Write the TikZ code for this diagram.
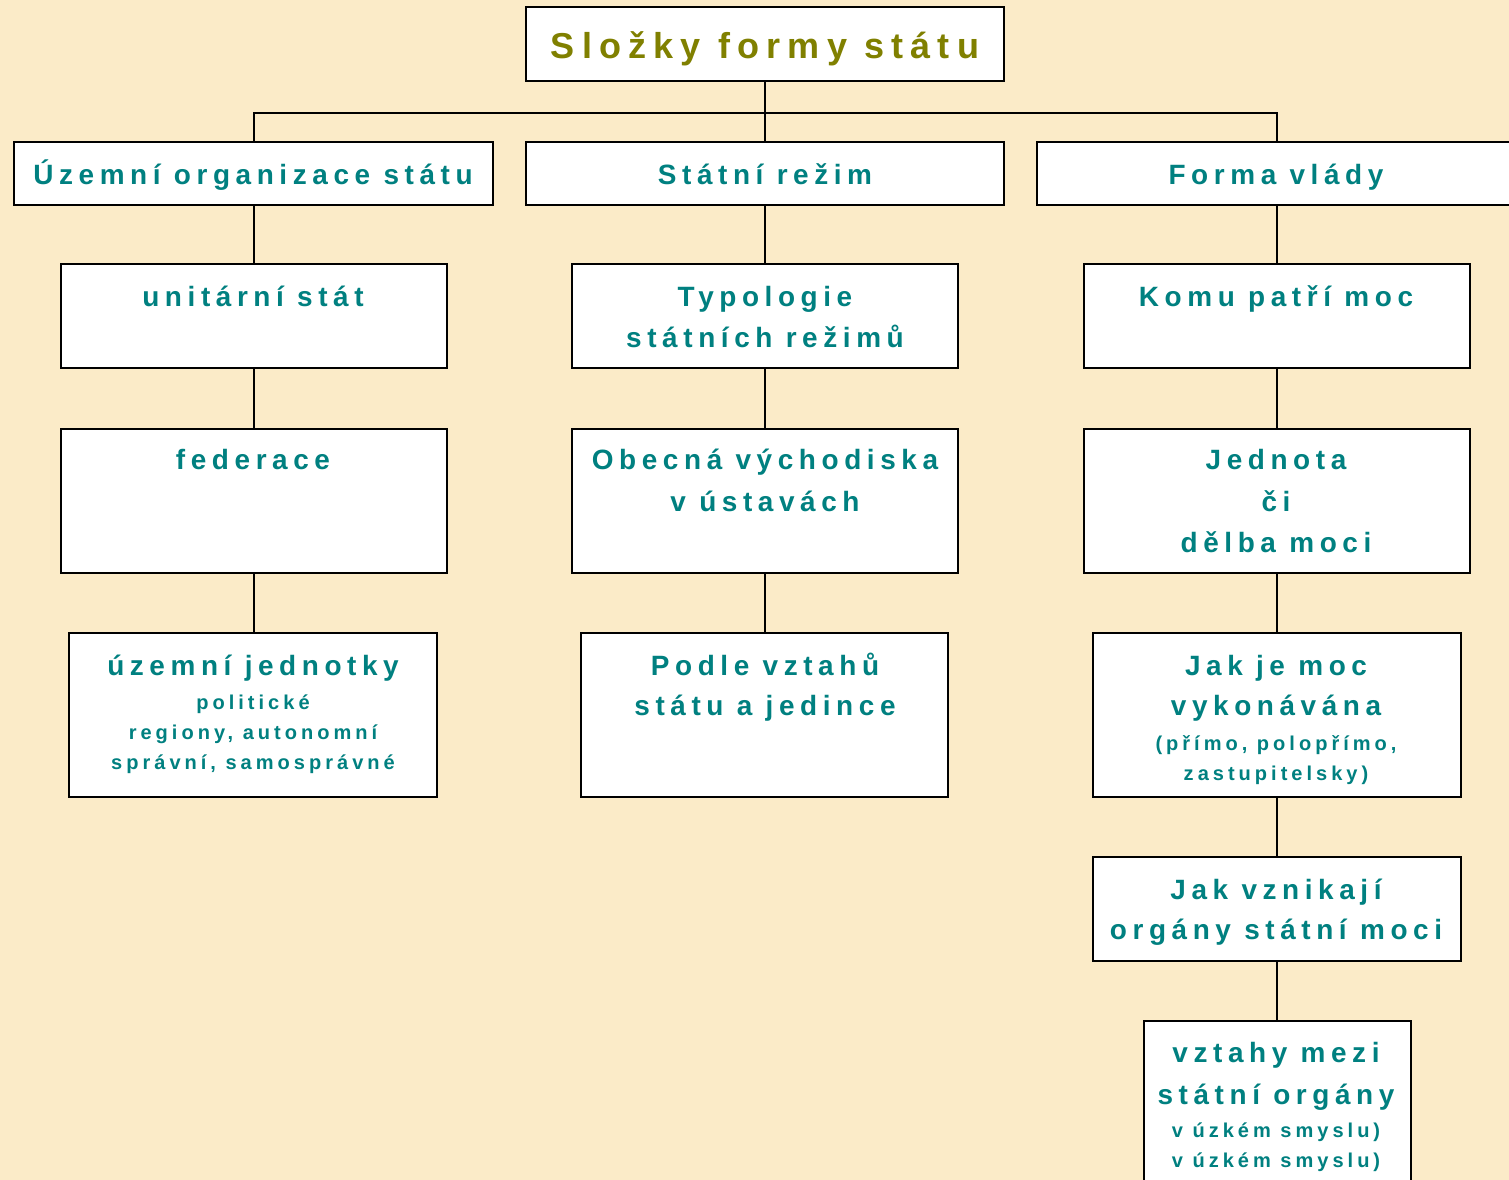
\documentclass[tikz,border=0pt]{standalone}
\usepackage{fontspec}
\usetikzlibrary{fit}
\newfontfamily\spaced{Liberation Sans}[LetterSpace=20]
\definecolor{bgc}{RGB}{251,235,200}
\definecolor{tealc}{RGB}{0,128,128}
\definecolor{olivec}{RGB}{128,128,0}
\begin{document}
\begin{tikzpicture}[x=0.02cm,y=-0.02cm,
  box/.style={draw=black, line width=1.4pt, fill=white, inner sep=0pt},
  conn/.style={draw=black, line width=1.4pt},
  ttl/.style={anchor=base, inner sep=0pt, text=olivec, font=\spaced\bfseries\fontsize{20.5}{24}\selectfont},
  big/.style={anchor=base, inner sep=0pt, text=tealc, font=\spaced\bfseries\fontsize{15.9}{19}\selectfont},
  small/.style={anchor=base, inner sep=0pt, text=tealc, font=\spaced\bfseries\fontsize{11.4}{13}\selectfont}]
\useasboundingbox (0,0) rectangle (1509,1180);
\fill[bgc] (0,0) rectangle (1509,1180);
\clip (0,0) rectangle (1509,1180);
% boxes
\node[box, fit={(526,7) (1004,81)}] (title) {};
\node[box, fit={(14,142) (493,205)}] (s1) {};
\node[box, fit={(526,142) (1004,205)}] (s2) {};
\node[box, fit={(1037,142) (1515,205)}] (s3) {};
\node[box, fit={(61,264) (447,368)}] (c1a) {};
\node[box, fit={(61,429) (447,573)}] (c1b) {};
\node[box, fit={(69,633) (437,797)}] (c1c) {};
\node[box, fit={(572,264) (958,368)}] (c2a) {};
\node[box, fit={(572,429) (958,573)}] (c2b) {};
\node[box, fit={(581,633) (948,797)}] (c2c) {};
\node[box, fit={(1084,264) (1470,368)}] (c3a) {};
\node[box, fit={(1084,429) (1470,573)}] (c3b) {};
\node[box, fit={(1093,633) (1461,797)}] (c3c) {};
\node[box, fit={(1093,857) (1461,961)}] (c3d) {};
\node[box, fit={(1144,1021) (1411,1195)}] (c3e) {};
% connectors
\coordinate (bus) at (765,113);
\draw[conn] (title.south) -- (title.south |- s2.north);
\draw[conn] (c1a.north |- s1.north) |- (bus) -| (c3a.north |- s3.north);
\draw[conn] (c1a.north |- s1.south) -- (c1a.north);
\draw[conn] (c1a.south) -- (c1b.north);
\draw[conn] (c1b.south) -- (c1b.south |- c1c.north);
\draw[conn] (c2a.north |- s2.south) -- (c2a.north);
\draw[conn] (c2a.south) -- (c2b.north);
\draw[conn] (c2b.south) -- (c2b.south |- c2c.north);
\draw[conn] (c3a.north |- s3.south) -- (c3a.north);
\draw[conn] (c3a.south) -- (c3b.north);
\draw[conn] (c3b.south) -- (c3b.south |- c3c.north);
\draw[conn] (c3c.south) -- (c3d.north);
\draw[conn] (c3d.south) -- (c3d.south |- c3e.north);
% texts
\node[ttl] (tt) at (765,58) {Složky formy státu};
\node[big] (ts1) at (253,184) {Územní organizace státu};
\node[big] (ts2) at (765,184) {Státní režim};
\node[big] (ts3) at (1276,184) {Forma vlády};
\node[big] (t1a) at (253,306) {unitární stát};
\node[big] (t1b) at (253,469) {federace};
\node[big] (t1c1) at (253,675) {územní jednotky};
\node[small] (t1c2) at (253,709) {politické};
\node[small] (t1c3) at (253,739) {regiony, autonomní};
\node[small] (t1c4) at (253,769) {správní, samosprávné};
\node[big] (t2a1) at (765,306) {Typologie};
\node[big] (t2a2) at (765,347) {státních režimů};
\node[big] (t2b1) at (765,469) {Obecná východiska};
\node[big] (t2b2) at (765,511) {v ústavách};
\node[big] (t2c1) at (765,675) {Podle vztahů};
\node[big] (t2c2) at (765,715) {státu a jedince};
\node[big] (t3a) at (1276,306) {Komu patří moc};
\node[big] (t3b1) at (1276,469) {Jednota};
\node[big] (t3b2) at (1276,511) {či};
\node[big] (t3b3) at (1276,552) {dělba moci};
\node[big] (t3c1) at (1276,675) {Jak je moc};
\node[big] (t3c2) at (1276,715) {vykonávána};
\node[small] (t3c3) at (1276,750) {(přímo, polopřímo,};
\node[small] (t3c4) at (1276,780) {zastupitelsky)};
\node[big] (t3d1) at (1276,899) {Jak vznikají};
\node[big] (t3d2) at (1276,939) {orgány státní moci};
\node[big] (t3e1) at (1276,1062) {vztahy mezi};
\node[big] (t3e2) at (1276,1104) {státní orgány};
\node[small] (t3e3) at (1276,1137) {v úzkém smyslu)};
\node[small] (t3e4) at (1276,1167) {v úzkém smyslu)};
\end{tikzpicture}
\end{document}
